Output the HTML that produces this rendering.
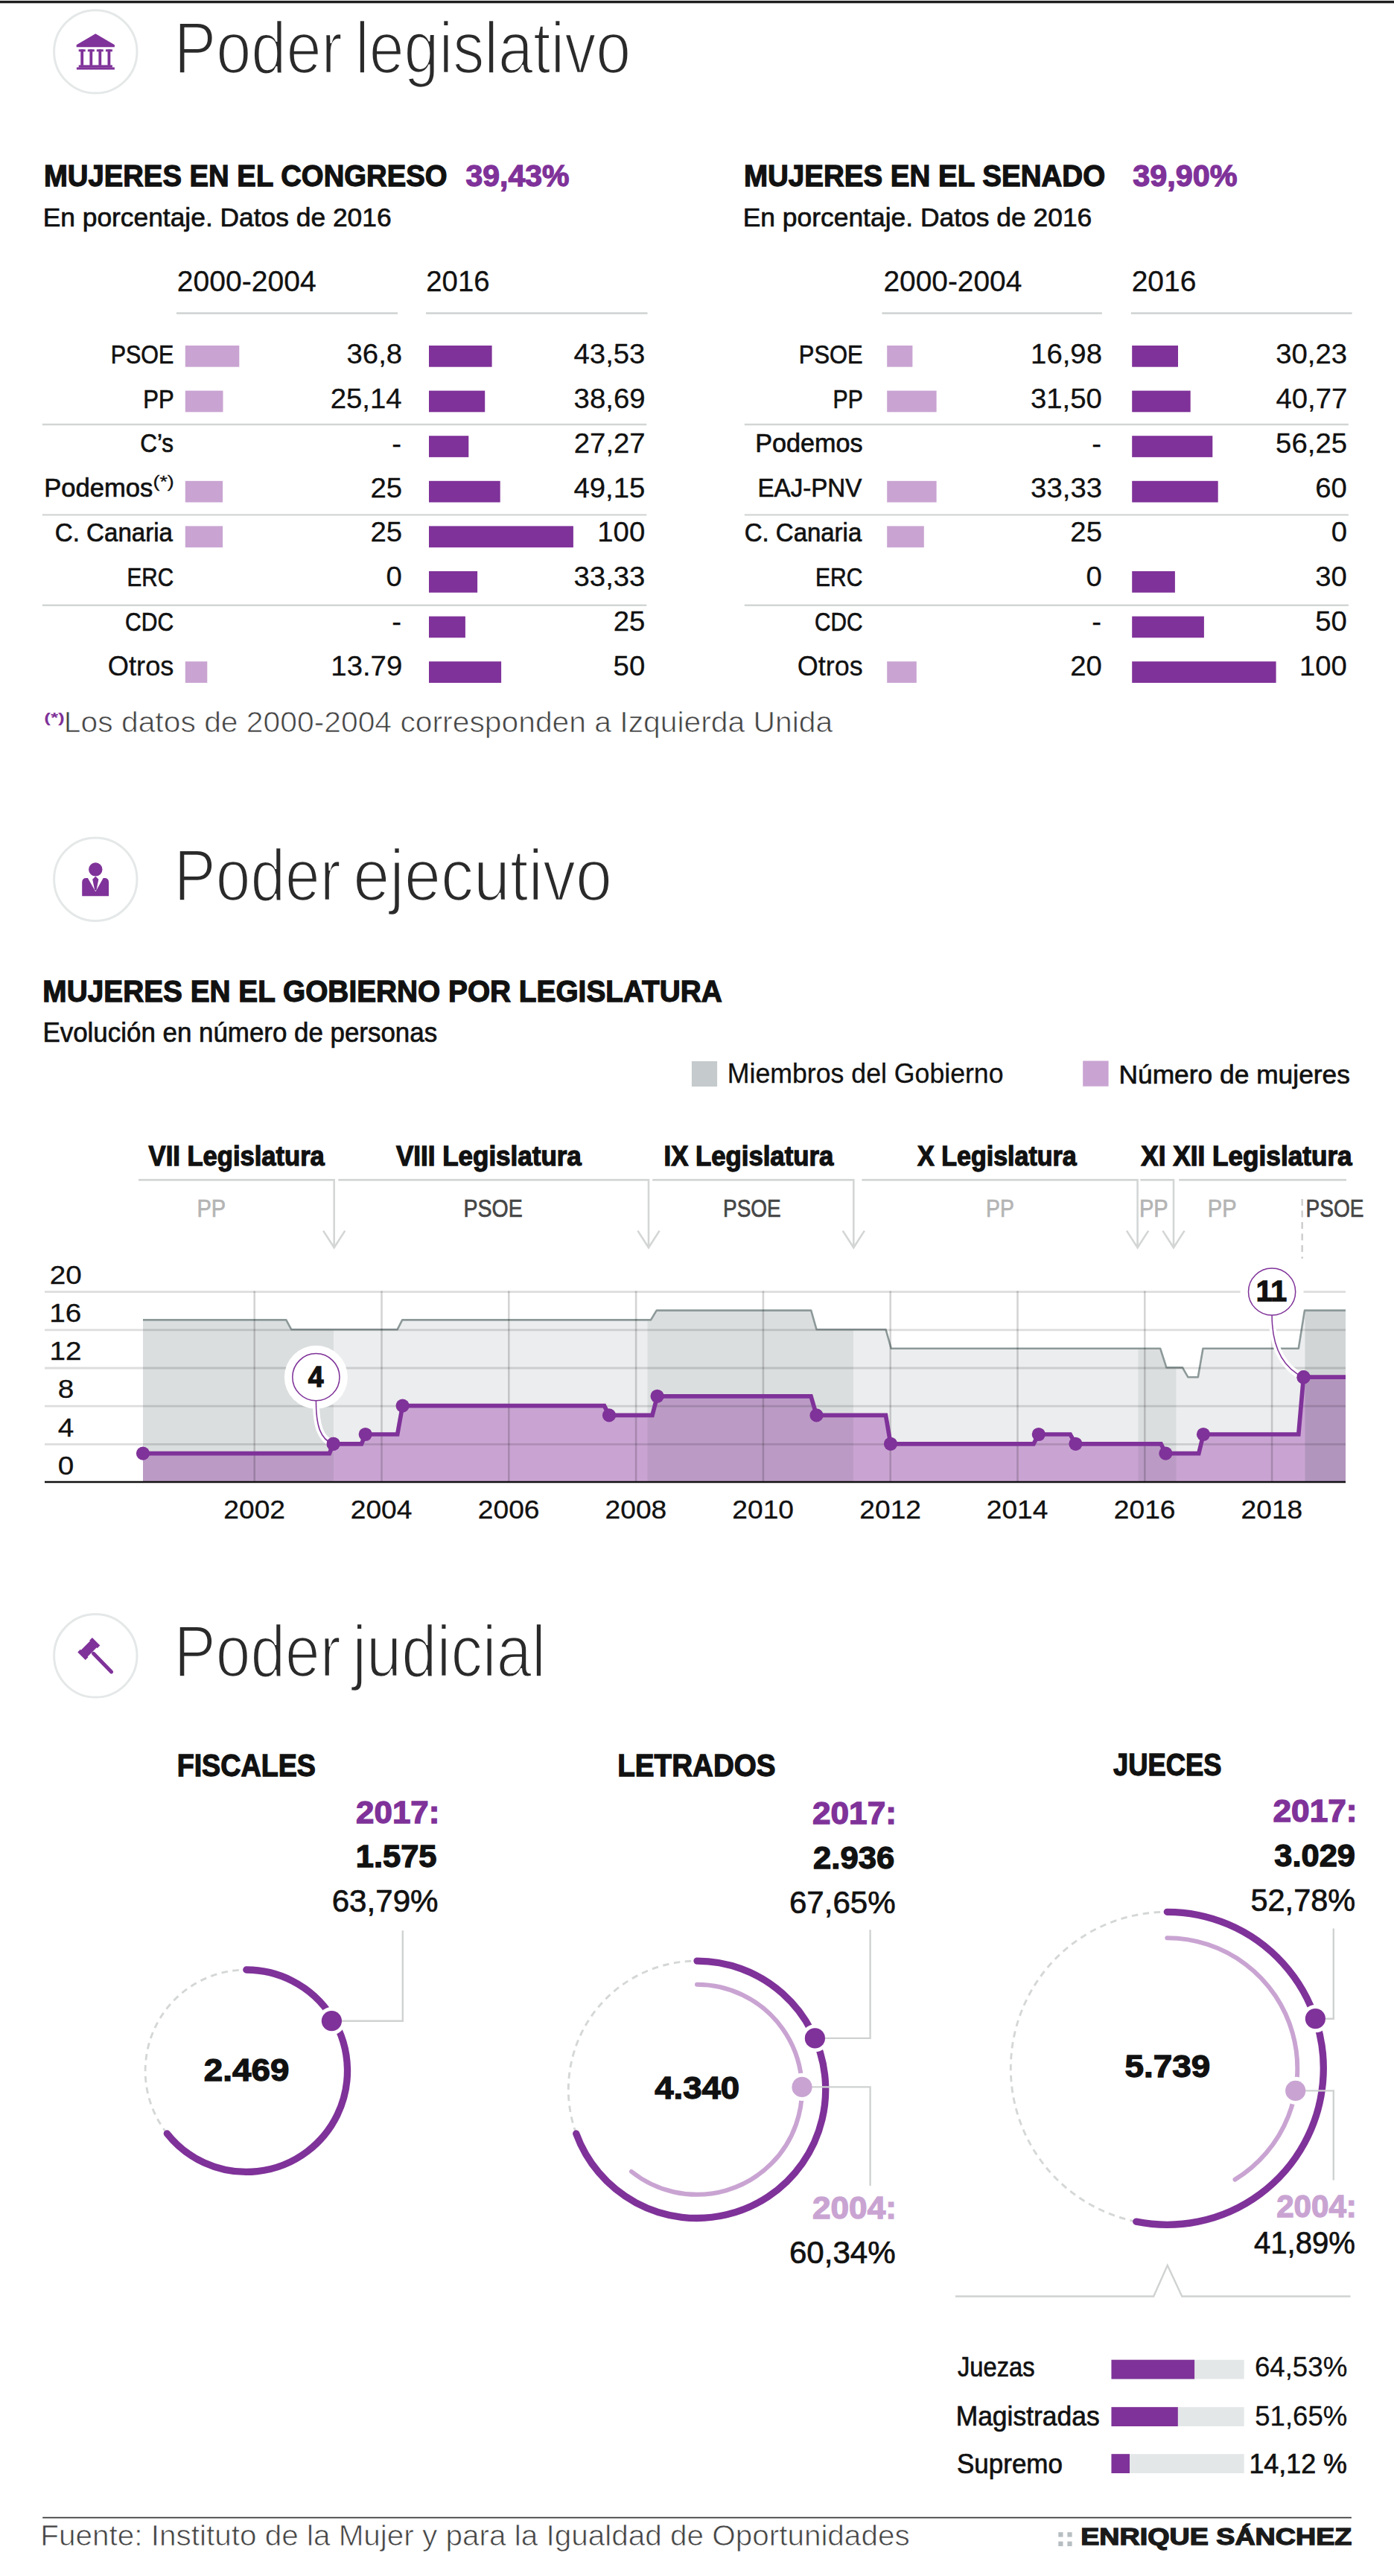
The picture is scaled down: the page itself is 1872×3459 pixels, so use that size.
<!DOCTYPE html>
<html lang="es"><head><meta charset="utf-8"><title>Poder legislativo, ejecutivo y judicial</title>
<style>
html,body{margin:0;padding:0;background:#fff}
svg{display:block}
text{font-family:'Liberation Sans',sans-serif;white-space:pre}
</style></head><body>
<svg width="1872" height="3459" viewBox="0 0 1872 3459">
<rect x="0.00" y="0.90" width="1872.00" height="3.40" fill="#1e1e1e"/>
<circle cx="128.3" cy="69.4" r="55.7" fill="#fff" stroke="#e5e8e8" stroke-width="3"/>
<g fill="#7f3299"><polygon points="102.7,63.3 102.7,60.3 128.3,45.2 153.9,60.3 153.9,63.3"/><rect x="105.7" y="66.3" width="9" height="3"/><rect x="108.3" y="66.3" width="3.8" height="21.5"/><rect x="117.8" y="66.3" width="9" height="3"/><rect x="120.4" y="66.3" width="3.8" height="21.5"/><rect x="129.8" y="66.3" width="9" height="3"/><rect x="132.4" y="66.3" width="3.8" height="21.5"/><rect x="141.9" y="66.3" width="9" height="3"/><rect x="144.5" y="66.3" width="3.8" height="21.5"/><rect x="105.7" y="87.4" width="45.2" height="3.2"/><rect x="102.9" y="90.4" width="51" height="3.1"/></g>
<text x="233.75" y="97.90" font-size="98.78" font-weight="normal" fill="#2a2a2a" textLength="225.95" lengthAdjust="spacingAndGlyphs" stroke="#fff" stroke-width="2.6">Poder</text>
<text x="476.92" y="97.90" font-size="98.78" font-weight="normal" fill="#2a2a2a" textLength="370.32" lengthAdjust="spacingAndGlyphs" stroke="#fff" stroke-width="2.6">legislativo</text>
<text x="58.89" y="249.75" font-size="41.11" font-weight="bold" fill="#111" textLength="541.66" lengthAdjust="spacingAndGlyphs" stroke="#111" stroke-width="1.3">MUJERES EN EL CONGRESO</text>
<text x="625.51" y="249.75" font-size="41.11" font-weight="bold" fill="#7f3299" textLength="139.02" lengthAdjust="spacingAndGlyphs" stroke="#7f3299" stroke-width="1.3">39,43%</text>
<text x="57.65" y="304.05" font-size="35.98" font-weight="normal" fill="#111" textLength="467.96" lengthAdjust="spacingAndGlyphs" stroke="#111" stroke-width="0.7">En porcentaje. Datos de 2016</text>
<text x="237.89" y="390.85" font-size="38.06" font-weight="normal" fill="#111" textLength="186.81" lengthAdjust="spacingAndGlyphs" stroke="#111" stroke-width="0.3">2000-2004</text>
<text x="572.32" y="390.85" font-size="38.06" font-weight="normal" fill="#111" textLength="85.21" lengthAdjust="spacingAndGlyphs" stroke="#111" stroke-width="0.3">2016</text>
<line x1="237.00" y1="420.70" x2="534.00" y2="420.70" stroke="#d3d5d5" stroke-width="2.7"/>
<line x1="572.00" y1="420.70" x2="869.50" y2="420.70" stroke="#d3d5d5" stroke-width="2.7"/>
<text x="148.65" y="487.65" font-size="35.58" font-weight="normal" fill="#111" textLength="84.61" lengthAdjust="spacingAndGlyphs" stroke="#111" stroke-width="0.7">PSOE</text>
<rect x="248.80" y="464.00" width="72.50" height="28.70" fill="#c9a4d2"/>
<text x="465.51" y="487.85" font-size="37.56" font-weight="normal" fill="#111" textLength="74.60" lengthAdjust="spacingAndGlyphs" stroke="#111" stroke-width="0.3">36,8</text>
<rect x="576.00" y="464.00" width="84.60" height="28.70" fill="#7f3299"/>
<text x="770.51" y="487.85" font-size="37.56" font-weight="normal" fill="#111" textLength="95.92" lengthAdjust="spacingAndGlyphs" stroke="#111" stroke-width="0.3">43,53</text>
<text x="192.21" y="547.55" font-size="35.58" font-weight="normal" fill="#111" textLength="41.38" lengthAdjust="spacingAndGlyphs" stroke="#111" stroke-width="0.7">PP</text>
<rect x="248.80" y="524.60" width="50.70" height="28.70" fill="#c9a4d2"/>
<text x="443.65" y="547.75" font-size="37.56" font-weight="normal" fill="#111" textLength="95.92" lengthAdjust="spacingAndGlyphs" stroke="#111" stroke-width="0.3">25,14</text>
<rect x="576.00" y="524.60" width="75.20" height="28.70" fill="#7f3299"/>
<text x="770.64" y="547.75" font-size="37.56" font-weight="normal" fill="#111" textLength="95.92" lengthAdjust="spacingAndGlyphs" stroke="#111" stroke-width="0.3">38,69</text>
<text x="188.17" y="607.45" font-size="35.58" font-weight="normal" fill="#111" textLength="44.90" lengthAdjust="spacingAndGlyphs" stroke="#111" stroke-width="0.7">C’s</text>
<text x="526.39" y="607.65" font-size="37.56" font-weight="normal" fill="#111" textLength="12.76" lengthAdjust="spacingAndGlyphs" stroke="#111" stroke-width="0.3">-</text>
<rect x="576.00" y="585.20" width="53.30" height="28.70" fill="#7f3299"/>
<text x="770.75" y="607.65" font-size="37.56" font-weight="normal" fill="#111" textLength="95.92" lengthAdjust="spacingAndGlyphs" stroke="#111" stroke-width="0.3">27,27</text>
<text x="59.31" y="667.35" font-size="35.58" font-weight="normal" fill="#111" textLength="146.09" lengthAdjust="spacingAndGlyphs" stroke="#111" stroke-width="0.7">Podemos</text>
<text x="205.49" y="653.75" font-size="21.56" font-weight="normal" fill="#111" textLength="28.33" lengthAdjust="spacingAndGlyphs" stroke="#111" stroke-width="0.3">(*)</text>
<rect x="248.80" y="645.80" width="50.30" height="28.70" fill="#c9a4d2"/>
<text x="497.42" y="667.55" font-size="37.56" font-weight="normal" fill="#111" textLength="42.64" lengthAdjust="spacingAndGlyphs" stroke="#111" stroke-width="0.3">25</text>
<rect x="576.00" y="645.80" width="95.70" height="28.70" fill="#7f3299"/>
<text x="770.44" y="667.55" font-size="37.56" font-weight="normal" fill="#111" textLength="95.92" lengthAdjust="spacingAndGlyphs" stroke="#111" stroke-width="0.3">49,15</text>
<text x="73.87" y="727.25" font-size="35.58" font-weight="normal" fill="#111" textLength="158.08" lengthAdjust="spacingAndGlyphs" stroke="#111" stroke-width="0.7">C. Canaria</text>
<rect x="248.80" y="706.40" width="50.30" height="28.70" fill="#c9a4d2"/>
<text x="497.42" y="727.45" font-size="37.56" font-weight="normal" fill="#111" textLength="42.64" lengthAdjust="spacingAndGlyphs" stroke="#111" stroke-width="0.3">25</text>
<rect x="576.00" y="706.40" width="193.90" height="28.70" fill="#7f3299"/>
<text x="802.29" y="727.45" font-size="37.56" font-weight="normal" fill="#111" textLength="63.95" lengthAdjust="spacingAndGlyphs" stroke="#111" stroke-width="0.3">100</text>
<text x="170.52" y="787.15" font-size="35.58" font-weight="normal" fill="#111" textLength="62.56" lengthAdjust="spacingAndGlyphs" stroke="#111" stroke-width="0.7">ERC</text>
<text x="518.63" y="787.35" font-size="37.56" font-weight="normal" fill="#111" textLength="21.32" lengthAdjust="spacingAndGlyphs" stroke="#111" stroke-width="0.3">0</text>
<rect x="576.00" y="767.00" width="65.10" height="28.70" fill="#7f3299"/>
<text x="770.51" y="787.35" font-size="37.56" font-weight="normal" fill="#111" textLength="95.92" lengthAdjust="spacingAndGlyphs" stroke="#111" stroke-width="0.3">33,33</text>
<text x="168.02" y="847.05" font-size="35.58" font-weight="normal" fill="#111" textLength="65.07" lengthAdjust="spacingAndGlyphs" stroke="#111" stroke-width="0.7">CDC</text>
<text x="526.39" y="847.25" font-size="37.56" font-weight="normal" fill="#111" textLength="12.76" lengthAdjust="spacingAndGlyphs" stroke="#111" stroke-width="0.3">-</text>
<rect x="576.00" y="827.60" width="48.90" height="28.70" fill="#7f3299"/>
<text x="823.72" y="847.25" font-size="37.56" font-weight="normal" fill="#111" textLength="42.64" lengthAdjust="spacingAndGlyphs" stroke="#111" stroke-width="0.3">25</text>
<text x="144.83" y="907.15" font-size="36.16" font-weight="normal" fill="#111" textLength="88.63" lengthAdjust="spacingAndGlyphs" stroke="#111" stroke-width="0.3">Otros</text>
<rect x="248.80" y="888.20" width="29.50" height="28.70" fill="#c9a4d2"/>
<text x="444.34" y="907.15" font-size="37.56" font-weight="normal" fill="#111" textLength="95.92" lengthAdjust="spacingAndGlyphs" stroke="#111" stroke-width="0.3">13.79</text>
<rect x="576.00" y="888.20" width="97.10" height="28.70" fill="#7f3299"/>
<text x="823.61" y="907.15" font-size="37.56" font-weight="normal" fill="#111" textLength="42.64" lengthAdjust="spacingAndGlyphs" stroke="#111" stroke-width="0.3">50</text>
<line x1="56.80" y1="570.00" x2="868.30" y2="570.00" stroke="#d3d5d5" stroke-width="2.4"/>
<line x1="56.80" y1="691.40" x2="868.30" y2="691.40" stroke="#d3d5d5" stroke-width="2.4"/>
<line x1="56.80" y1="812.80" x2="868.30" y2="812.80" stroke="#d3d5d5" stroke-width="2.4"/>
<text x="998.88" y="249.75" font-size="41.11" font-weight="bold" fill="#111" textLength="485.29" lengthAdjust="spacingAndGlyphs" stroke="#111" stroke-width="1.3">MUJERES EN EL SENADO</text>
<text x="1521.20" y="249.75" font-size="41.11" font-weight="bold" fill="#7f3299" textLength="140.44" lengthAdjust="spacingAndGlyphs" stroke="#7f3299" stroke-width="1.3">39,90%</text>
<text x="997.64" y="304.05" font-size="35.98" font-weight="normal" fill="#111" textLength="468.66" lengthAdjust="spacingAndGlyphs" stroke="#111" stroke-width="0.7">En porcentaje. Datos de 2016</text>
<text x="1186.50" y="390.85" font-size="38.06" font-weight="normal" fill="#111" textLength="185.79" lengthAdjust="spacingAndGlyphs" stroke="#111" stroke-width="0.3">2000-2004</text>
<text x="1519.69" y="390.85" font-size="38.06" font-weight="normal" fill="#111" textLength="86.67" lengthAdjust="spacingAndGlyphs" stroke="#111" stroke-width="0.3">2016</text>
<line x1="1184.40" y1="420.70" x2="1479.90" y2="420.70" stroke="#d3d5d5" stroke-width="2.7"/>
<line x1="1518.80" y1="420.70" x2="1815.60" y2="420.70" stroke="#d3d5d5" stroke-width="2.7"/>
<text x="1072.82" y="487.65" font-size="35.58" font-weight="normal" fill="#111" textLength="85.76" lengthAdjust="spacingAndGlyphs" stroke="#111" stroke-width="0.7">PSOE</text>
<rect x="1191.20" y="464.00" width="34.20" height="28.70" fill="#c9a4d2"/>
<text x="1384.09" y="487.85" font-size="37.56" font-weight="normal" fill="#111" textLength="95.92" lengthAdjust="spacingAndGlyphs" stroke="#111" stroke-width="0.3">16,98</text>
<rect x="1520.20" y="464.00" width="61.80" height="28.70" fill="#7f3299"/>
<text x="1713.21" y="487.85" font-size="37.56" font-weight="normal" fill="#111" textLength="95.92" lengthAdjust="spacingAndGlyphs" stroke="#111" stroke-width="0.3">30,23</text>
<text x="1118.57" y="547.55" font-size="35.58" font-weight="normal" fill="#111" textLength="40.27" lengthAdjust="spacingAndGlyphs" stroke="#111" stroke-width="0.7">PP</text>
<rect x="1191.20" y="524.60" width="66.40" height="28.70" fill="#c9a4d2"/>
<text x="1383.92" y="547.75" font-size="37.56" font-weight="normal" fill="#111" textLength="95.92" lengthAdjust="spacingAndGlyphs" stroke="#111" stroke-width="0.3">31,50</text>
<rect x="1520.20" y="524.60" width="78.50" height="28.70" fill="#7f3299"/>
<text x="1713.45" y="547.75" font-size="37.56" font-weight="normal" fill="#111" textLength="95.92" lengthAdjust="spacingAndGlyphs" stroke="#111" stroke-width="0.3">40,77</text>
<text x="1014.15" y="607.45" font-size="35.58" font-weight="normal" fill="#111" textLength="144.34" lengthAdjust="spacingAndGlyphs" stroke="#111" stroke-width="0.7">Podemos</text>
<text x="1466.29" y="607.65" font-size="37.56" font-weight="normal" fill="#111" textLength="12.76" lengthAdjust="spacingAndGlyphs" stroke="#111" stroke-width="0.3">-</text>
<rect x="1520.20" y="585.20" width="108.10" height="28.70" fill="#7f3299"/>
<text x="1713.14" y="607.65" font-size="37.56" font-weight="normal" fill="#111" textLength="95.92" lengthAdjust="spacingAndGlyphs" stroke="#111" stroke-width="0.3">56,25</text>
<text x="1017.53" y="667.35" font-size="35.58" font-weight="normal" fill="#111" textLength="139.86" lengthAdjust="spacingAndGlyphs" stroke="#111" stroke-width="0.7">EAJ-PNV</text>
<rect x="1191.20" y="645.80" width="66.40" height="28.70" fill="#c9a4d2"/>
<text x="1384.11" y="667.55" font-size="37.56" font-weight="normal" fill="#111" textLength="95.92" lengthAdjust="spacingAndGlyphs" stroke="#111" stroke-width="0.3">33,33</text>
<rect x="1520.20" y="645.80" width="115.50" height="28.70" fill="#7f3299"/>
<text x="1766.31" y="667.55" font-size="37.56" font-weight="normal" fill="#111" textLength="42.64" lengthAdjust="spacingAndGlyphs" stroke="#111" stroke-width="0.3">60</text>
<text x="999.78" y="727.25" font-size="35.58" font-weight="normal" fill="#111" textLength="157.47" lengthAdjust="spacingAndGlyphs" stroke="#111" stroke-width="0.7">C. Canaria</text>
<rect x="1191.20" y="706.40" width="49.60" height="28.70" fill="#c9a4d2"/>
<text x="1437.32" y="727.45" font-size="37.56" font-weight="normal" fill="#111" textLength="42.64" lengthAdjust="spacingAndGlyphs" stroke="#111" stroke-width="0.3">25</text>
<text x="1787.63" y="727.45" font-size="37.56" font-weight="normal" fill="#111" textLength="21.32" lengthAdjust="spacingAndGlyphs" stroke="#111" stroke-width="0.3">0</text>
<text x="1094.99" y="787.15" font-size="35.58" font-weight="normal" fill="#111" textLength="63.41" lengthAdjust="spacingAndGlyphs" stroke="#111" stroke-width="0.7">ERC</text>
<text x="1458.53" y="787.35" font-size="37.56" font-weight="normal" fill="#111" textLength="21.32" lengthAdjust="spacingAndGlyphs" stroke="#111" stroke-width="0.3">0</text>
<rect x="1520.20" y="767.00" width="57.70" height="28.70" fill="#7f3299"/>
<text x="1766.31" y="787.35" font-size="37.56" font-weight="normal" fill="#111" textLength="42.64" lengthAdjust="spacingAndGlyphs" stroke="#111" stroke-width="0.3">30</text>
<text x="1093.94" y="847.05" font-size="35.58" font-weight="normal" fill="#111" textLength="64.44" lengthAdjust="spacingAndGlyphs" stroke="#111" stroke-width="0.7">CDC</text>
<text x="1466.29" y="847.25" font-size="37.56" font-weight="normal" fill="#111" textLength="12.76" lengthAdjust="spacingAndGlyphs" stroke="#111" stroke-width="0.3">-</text>
<rect x="1520.20" y="827.60" width="96.70" height="28.70" fill="#7f3299"/>
<text x="1766.31" y="847.25" font-size="37.56" font-weight="normal" fill="#111" textLength="42.64" lengthAdjust="spacingAndGlyphs" stroke="#111" stroke-width="0.3">50</text>
<text x="1070.75" y="907.15" font-size="36.16" font-weight="normal" fill="#111" textLength="88.01" lengthAdjust="spacingAndGlyphs" stroke="#111" stroke-width="0.3">Otros</text>
<rect x="1191.20" y="888.20" width="39.60" height="28.70" fill="#c9a4d2"/>
<text x="1437.21" y="907.15" font-size="37.56" font-weight="normal" fill="#111" textLength="42.64" lengthAdjust="spacingAndGlyphs" stroke="#111" stroke-width="0.3">20</text>
<rect x="1520.20" y="888.20" width="193.40" height="28.70" fill="#7f3299"/>
<text x="1744.99" y="907.15" font-size="37.56" font-weight="normal" fill="#111" textLength="63.95" lengthAdjust="spacingAndGlyphs" stroke="#111" stroke-width="0.3">100</text>
<line x1="999.80" y1="570.00" x2="1810.90" y2="570.00" stroke="#d3d5d5" stroke-width="2.4"/>
<line x1="999.80" y1="691.40" x2="1810.90" y2="691.40" stroke="#d3d5d5" stroke-width="2.4"/>
<line x1="999.80" y1="812.80" x2="1810.90" y2="812.80" stroke="#d3d5d5" stroke-width="2.4"/>
<text x="59.20" y="969.70" font-size="18.50" font-weight="bold" fill="#7f3299" textLength="27.61" lengthAdjust="spacingAndGlyphs" stroke="none">(*)</text>
<text x="85.80" y="983.15" font-size="38.02" font-weight="normal" fill="#444" textLength="1032.45" lengthAdjust="spacingAndGlyphs" stroke="#fff" stroke-width="0.7">Los datos de 2000-2004 corresponden a Izquierda Unida</text>
<circle cx="128.3" cy="1180.7" r="55.7" fill="#fff" stroke="#e5e8e8" stroke-width="3"/>
<g fill="#7f3299"><circle cx="128.3" cy="1167.4" r="9.2"/><path d="M110.2,1203.2 V1185 Q110.2,1179.1 116,1179.1 H117.9 L128.3,1197.2 L138.7,1179.1 H140.3 Q146.1,1179.1 146.1,1185 V1203.2 Z"/><polygon points="128.3,1176.8 132.4,1180.8 129.6,1194.5 128.3,1196 127,1194.5 124.2,1180.8"/></g>
<text x="233.82" y="1209.30" font-size="98.78" font-weight="normal" fill="#2a2a2a" textLength="223.77" lengthAdjust="spacingAndGlyphs" stroke="#fff" stroke-width="2.6">Poder</text>
<text x="474.36" y="1209.30" font-size="98.78" font-weight="normal" fill="#2a2a2a" textLength="347.64" lengthAdjust="spacingAndGlyphs" stroke="#fff" stroke-width="2.6">ejecutivo</text>
<text x="57.36" y="1344.55" font-size="41.11" font-weight="bold" fill="#111" textLength="912.50" lengthAdjust="spacingAndGlyphs" stroke="#111" stroke-width="1.3">MUJERES EN EL GOBIERNO POR LEGISLATURA</text>
<text x="57.49" y="1398.95" font-size="36.98" font-weight="normal" fill="#111" textLength="529.62" lengthAdjust="spacingAndGlyphs" stroke="#111" stroke-width="0.7">Evolución en número de personas</text>
<rect x="928.90" y="1425.00" width="34.20" height="34.00" fill="#c5cbcd"/>
<text x="976.82" y="1454.45" font-size="36.06" font-weight="normal" fill="#111" textLength="370.72" lengthAdjust="spacingAndGlyphs" stroke="#111" stroke-width="0.3">Miembros del Gobierno</text>
<rect x="1454.20" y="1424.50" width="34.40" height="34.20" fill="#c9a4d2"/>
<text x="1502.45" y="1454.65" font-size="35.48" font-weight="normal" fill="#111" textLength="310.48" lengthAdjust="spacingAndGlyphs" stroke="#111" stroke-width="0.7">Número de mujeres</text>
<text x="199.61" y="1565.35" font-size="36.91" font-weight="bold" fill="#111" textLength="236.22" lengthAdjust="spacingAndGlyphs" stroke="#111" stroke-width="1.3">VII Legislatura</text>
<text x="532.01" y="1565.35" font-size="36.91" font-weight="bold" fill="#111" textLength="248.82" lengthAdjust="spacingAndGlyphs" stroke="#111" stroke-width="1.3">VIII Legislatura</text>
<text x="891.53" y="1565.35" font-size="36.91" font-weight="bold" fill="#111" textLength="227.80" lengthAdjust="spacingAndGlyphs" stroke="#111" stroke-width="1.3">IX Legislatura</text>
<text x="1232.05" y="1565.35" font-size="36.91" font-weight="bold" fill="#111" textLength="213.68" lengthAdjust="spacingAndGlyphs" stroke="#111" stroke-width="1.3">X Legislatura</text>
<text x="1532.34" y="1565.35" font-size="36.91" font-weight="bold" fill="#111" textLength="283.29" lengthAdjust="spacingAndGlyphs" stroke="#111" stroke-width="1.3">XI XII Legislatura</text>
<line x1="186.00" y1="1584.40" x2="448.70" y2="1584.40" stroke="#d4d6d6" stroke-width="2.6"/>
<line x1="454.30" y1="1584.40" x2="871.00" y2="1584.40" stroke="#d4d6d6" stroke-width="2.6"/>
<line x1="876.20" y1="1584.40" x2="1146.30" y2="1584.40" stroke="#d4d6d6" stroke-width="2.6"/>
<line x1="1157.40" y1="1584.40" x2="1527.60" y2="1584.40" stroke="#d4d6d6" stroke-width="2.6"/>
<line x1="1531.40" y1="1584.40" x2="1576.00" y2="1584.40" stroke="#d4d6d6" stroke-width="2.6"/>
<line x1="1583.20" y1="1584.40" x2="1808.00" y2="1584.40" stroke="#d4d6d6" stroke-width="2.6"/>
<path d="M448.7,1583.1 V1675 M434.09999999999997,1652.6 L448.7,1675.3 L463.3,1652.6" fill="none" stroke="#d4d6d6" stroke-width="2.6" stroke-linejoin="miter"/>
<path d="M871,1583.1 V1675 M856.4,1652.6 L871,1675.3 L885.6,1652.6" fill="none" stroke="#d4d6d6" stroke-width="2.6" stroke-linejoin="miter"/>
<path d="M1146.3,1583.1 V1675 M1131.7,1652.6 L1146.3,1675.3 L1160.8999999999999,1652.6" fill="none" stroke="#d4d6d6" stroke-width="2.6" stroke-linejoin="miter"/>
<path d="M1527.6,1583.1 V1675 M1513.0,1652.6 L1527.6,1675.3 L1542.1999999999998,1652.6" fill="none" stroke="#d4d6d6" stroke-width="2.6" stroke-linejoin="miter"/>
<path d="M1576,1583.1 V1675 M1561.4,1652.6 L1576,1675.3 L1590.6,1652.6" fill="none" stroke="#d4d6d6" stroke-width="2.6" stroke-linejoin="miter"/>
<text x="264.47" y="1633.65" font-size="33.28" font-weight="normal" fill="#b4b4b4" textLength="38.71" lengthAdjust="spacingAndGlyphs" stroke="#b4b4b4" stroke-width="0.7">PP</text>
<text x="622.51" y="1633.65" font-size="33.28" font-weight="normal" fill="#454545" textLength="79.16" lengthAdjust="spacingAndGlyphs" stroke="#454545" stroke-width="0.7">PSOE</text>
<text x="971.06" y="1633.65" font-size="33.28" font-weight="normal" fill="#454545" textLength="77.69" lengthAdjust="spacingAndGlyphs" stroke="#454545" stroke-width="0.7">PSOE</text>
<text x="1324.02" y="1633.65" font-size="33.28" font-weight="normal" fill="#b4b4b4" textLength="37.82" lengthAdjust="spacingAndGlyphs" stroke="#b4b4b4" stroke-width="0.7">PP</text>
<text x="1529.96" y="1633.65" font-size="33.28" font-weight="normal" fill="#b4b4b4" textLength="38.82" lengthAdjust="spacingAndGlyphs" stroke="#b4b4b4" stroke-width="0.7">PP</text>
<text x="1621.76" y="1633.65" font-size="33.28" font-weight="normal" fill="#b4b4b4" textLength="38.82" lengthAdjust="spacingAndGlyphs" stroke="#b4b4b4" stroke-width="0.7">PP</text>
<text x="1753.55" y="1633.65" font-size="33.28" font-weight="normal" fill="#454545" textLength="78.01" lengthAdjust="spacingAndGlyphs" stroke="#454545" stroke-width="0.7">PSOE</text>
<line x1="1748.70" y1="1610.00" x2="1748.70" y2="1690.00" stroke="#cfcfcf" stroke-width="2.6" stroke-dasharray="9 6.5"/>
<defs><clipPath id="cg"><polygon points="192,1990 192.0,1772.4 384.3,1772.4 391.2,1785.2 533.7,1785.2 540.2,1772.4 874.0,1772.4 881.7,1759.6 1089.2,1759.6 1096.5,1785.2 1189.5,1785.2 1196.8,1810.8 1558.2,1810.8 1566.4,1836.4 1588.0,1836.4 1595.3,1849.2 1608.8,1849.2 1615.5,1810.8 1743.8,1810.8 1752.0,1759.6 1807.0,1759.6 1807,1990"/></clipPath></defs>
<polygon points="192,1990 192.0,1772.4 384.3,1772.4 391.2,1785.2 533.7,1785.2 540.2,1772.4 874.0,1772.4 881.7,1759.6 1089.2,1759.6 1096.5,1785.2 1189.5,1785.2 1196.8,1810.8 1558.2,1810.8 1566.4,1836.4 1588.0,1836.4 1595.3,1849.2 1608.8,1849.2 1615.5,1810.8 1743.8,1810.8 1752.0,1759.6 1807.0,1759.6 1807,1990" fill="#ecedee"/>
<polygon points="192,1990 192.0,1951.6 442.4,1951.6 447.6,1938.8 485.5,1938.8 490.7,1926.0 533.7,1926.0 540.6,1887.6 811.5,1887.6 818.0,1900.4 876.0,1900.4 882.6,1874.8 1089.0,1874.8 1096.5,1900.4 1189.5,1900.4 1196.0,1938.8 1388.0,1938.8 1394.8,1926.0 1437.2,1926.0 1444.4,1938.8 1559.1,1938.8 1565.4,1951.6 1609.8,1951.6 1616.0,1926.0 1743.8,1926.0 1750.5,1849.2 1807.0,1849.2 1807,1990" fill="#c9a4d2"/>
<g clip-path="url(#cg)" fill="#14322d"><rect x="192" y="1730" width="256" height="260" fill-opacity="0.08"/><rect x="869.5" y="1730" width="276.5" height="260" fill-opacity="0.08"/><rect x="1528.5" y="1730" width="51.0" height="260" fill-opacity="0.08"/><rect x="1752.5" y="1730" width="54.5" height="260" fill-opacity="0.125"/></g>
<polyline points="192.0,1772.4 384.3,1772.4 391.2,1785.2 533.7,1785.2 540.2,1772.4 874.0,1772.4 881.7,1759.6 1089.2,1759.6 1096.5,1785.2 1189.5,1785.2 1196.8,1810.8 1558.2,1810.8 1566.4,1836.4 1588.0,1836.4 1595.3,1849.2 1608.8,1849.2 1615.5,1810.8 1743.8,1810.8 1752.0,1759.6 1807.0,1759.6" fill="none" stroke="#8d9999" stroke-width="2.6" stroke-linejoin="round"/>
<line x1="60.00" y1="1939.40" x2="1807.00" y2="1939.40" stroke="#000" stroke-width="2.8" stroke-opacity="0.135"/>
<line x1="60.00" y1="1888.20" x2="1807.00" y2="1888.20" stroke="#000" stroke-width="2.8" stroke-opacity="0.135"/>
<line x1="60.00" y1="1837.00" x2="1807.00" y2="1837.00" stroke="#000" stroke-width="2.8" stroke-opacity="0.135"/>
<line x1="60.00" y1="1785.80" x2="1807.00" y2="1785.80" stroke="#000" stroke-width="2.8" stroke-opacity="0.135"/>
<line x1="60.00" y1="1734.60" x2="1807.00" y2="1734.60" stroke="#000" stroke-width="2.8" stroke-opacity="0.135"/>
<line x1="341.70" y1="1733.50" x2="341.70" y2="1990.00" stroke="#000" stroke-width="2.6" stroke-opacity="0.17"/>
<line x1="512.50" y1="1733.50" x2="512.50" y2="1990.00" stroke="#000" stroke-width="2.6" stroke-opacity="0.17"/>
<line x1="683.30" y1="1733.50" x2="683.30" y2="1990.00" stroke="#000" stroke-width="2.6" stroke-opacity="0.17"/>
<line x1="854.10" y1="1733.50" x2="854.10" y2="1990.00" stroke="#000" stroke-width="2.6" stroke-opacity="0.17"/>
<line x1="1024.90" y1="1733.50" x2="1024.90" y2="1990.00" stroke="#000" stroke-width="2.6" stroke-opacity="0.17"/>
<line x1="1195.70" y1="1733.50" x2="1195.70" y2="1990.00" stroke="#000" stroke-width="2.6" stroke-opacity="0.17"/>
<line x1="1366.50" y1="1733.50" x2="1366.50" y2="1990.00" stroke="#000" stroke-width="2.6" stroke-opacity="0.17"/>
<line x1="1537.30" y1="1733.50" x2="1537.30" y2="1990.00" stroke="#000" stroke-width="2.6" stroke-opacity="0.17"/>
<line x1="1708.10" y1="1733.50" x2="1708.10" y2="1990.00" stroke="#000" stroke-width="2.6" stroke-opacity="0.17"/>
<line x1="60.00" y1="1990.00" x2="1807.00" y2="1990.00" stroke="#111" stroke-width="2.6"/>
<polyline points="192.0,1951.6 442.4,1951.6 447.6,1938.8 485.5,1938.8 490.7,1926.0 533.7,1926.0 540.6,1887.6 811.5,1887.6 818.0,1900.4 876.0,1900.4 882.6,1874.8 1089.0,1874.8 1096.5,1900.4 1189.5,1900.4 1196.0,1938.8 1388.0,1938.8 1394.8,1926.0 1437.2,1926.0 1444.4,1938.8 1559.1,1938.8 1565.4,1951.6 1609.8,1951.6 1616.0,1926.0 1743.8,1926.0 1750.5,1849.2 1807.0,1849.2" fill="none" stroke="#7f3299" stroke-width="5.7" stroke-linejoin="miter"/>
<circle cx="192.0" cy="1951.6" r="9.1" fill="#7f3299"/>
<circle cx="447.6" cy="1938.8" r="9.1" fill="#7f3299"/>
<circle cx="490.7" cy="1926.0" r="9.1" fill="#7f3299"/>
<circle cx="540.6" cy="1887.6" r="9.1" fill="#7f3299"/>
<circle cx="818.0" cy="1900.4" r="9.1" fill="#7f3299"/>
<circle cx="882.6" cy="1874.8" r="9.1" fill="#7f3299"/>
<circle cx="1096.5" cy="1900.4" r="9.1" fill="#7f3299"/>
<circle cx="1196.0" cy="1938.8" r="9.1" fill="#7f3299"/>
<circle cx="1394.8" cy="1926.0" r="9.1" fill="#7f3299"/>
<circle cx="1444.4" cy="1938.8" r="9.1" fill="#7f3299"/>
<circle cx="1565.4" cy="1951.6" r="9.1" fill="#7f3299"/>
<circle cx="1616.0" cy="1926.0" r="9.1" fill="#7f3299"/>
<circle cx="1750.5" cy="1849.2" r="9.1" fill="#7f3299"/>
<text x="66.75" y="1723.85" font-size="34.56" font-weight="normal" fill="#111" textLength="43.06" lengthAdjust="spacingAndGlyphs" stroke="#111" stroke-width="0.3">20</text>
<text x="66.35" y="1775.05" font-size="34.56" font-weight="normal" fill="#111" textLength="43.06" lengthAdjust="spacingAndGlyphs" stroke="#111" stroke-width="0.3">16</text>
<text x="66.47" y="1826.25" font-size="34.56" font-weight="normal" fill="#111" textLength="43.06" lengthAdjust="spacingAndGlyphs" stroke="#111" stroke-width="0.3">12</text>
<text x="77.74" y="1877.45" font-size="34.56" font-weight="normal" fill="#111" textLength="21.53" lengthAdjust="spacingAndGlyphs" stroke="#111" stroke-width="0.3">8</text>
<text x="77.86" y="1928.65" font-size="34.56" font-weight="normal" fill="#111" textLength="21.53" lengthAdjust="spacingAndGlyphs" stroke="#111" stroke-width="0.3">4</text>
<text x="77.74" y="1979.85" font-size="34.56" font-weight="normal" fill="#111" textLength="21.53" lengthAdjust="spacingAndGlyphs" stroke="#111" stroke-width="0.3">0</text>
<text x="300.37" y="2038.55" font-size="34.56" font-weight="normal" fill="#111" textLength="82.66" lengthAdjust="spacingAndGlyphs" stroke="#111" stroke-width="0.3">2002</text>
<text x="470.78" y="2038.55" font-size="34.56" font-weight="normal" fill="#111" textLength="82.66" lengthAdjust="spacingAndGlyphs" stroke="#111" stroke-width="0.3">2004</text>
<text x="641.85" y="2038.55" font-size="34.56" font-weight="normal" fill="#111" textLength="82.66" lengthAdjust="spacingAndGlyphs" stroke="#111" stroke-width="0.3">2006</text>
<text x="812.64" y="2038.55" font-size="34.56" font-weight="normal" fill="#111" textLength="82.66" lengthAdjust="spacingAndGlyphs" stroke="#111" stroke-width="0.3">2008</text>
<text x="983.36" y="2038.55" font-size="34.56" font-weight="normal" fill="#111" textLength="82.66" lengthAdjust="spacingAndGlyphs" stroke="#111" stroke-width="0.3">2010</text>
<text x="1154.37" y="2038.55" font-size="34.56" font-weight="normal" fill="#111" textLength="82.66" lengthAdjust="spacingAndGlyphs" stroke="#111" stroke-width="0.3">2012</text>
<text x="1324.78" y="2038.55" font-size="34.56" font-weight="normal" fill="#111" textLength="82.66" lengthAdjust="spacingAndGlyphs" stroke="#111" stroke-width="0.3">2014</text>
<text x="1495.85" y="2038.55" font-size="34.56" font-weight="normal" fill="#111" textLength="82.66" lengthAdjust="spacingAndGlyphs" stroke="#111" stroke-width="0.3">2016</text>
<text x="1666.64" y="2038.55" font-size="34.56" font-weight="normal" fill="#111" textLength="82.66" lengthAdjust="spacingAndGlyphs" stroke="#111" stroke-width="0.3">2018</text>
<path d="M424.4,1880.5 C424.4,1915 430,1932 447.6,1939.5" fill="none" stroke="#fff" stroke-width="9"/>
<circle cx="424.4" cy="1849.2" r="42.5" fill="#fff"/>
<path d="M424.4,1880.5 C424.4,1915 430,1932 447.6,1939.5" fill="none" stroke="#7f3299" stroke-width="1.5"/>
<circle cx="424.4" cy="1849.2" r="31.6" fill="#fff" stroke="#7f3299" stroke-width="1.5"/>
<text x="413.83" y="1862.15" font-size="38.11" font-weight="bold" fill="#111" textLength="20.77" lengthAdjust="spacingAndGlyphs" stroke="#111" stroke-width="1.3">4</text>
<path d="M1708.1,1766 C1708.1,1808 1722,1836 1750.5,1849.5" fill="none" stroke="#fff" stroke-width="9"/>
<circle cx="1708.1" cy="1734.5" r="42.5" fill="#fff"/>
<path d="M1708.1,1766 C1708.1,1808 1722,1836 1750.5,1849.5" fill="none" stroke="#7f3299" stroke-width="1.5"/>
<circle cx="1708.1" cy="1734.5" r="31.6" fill="#fff" stroke="#7f3299" stroke-width="1.5"/>
<text x="1686.67" y="1747.45" font-size="38.11" font-weight="bold" fill="#111" textLength="41.54" lengthAdjust="spacingAndGlyphs" stroke="#111" stroke-width="1.3">11</text>
<circle cx="447.6" cy="1938.8" r="9.1" fill="#7f3299"/>
<circle cx="1750.5" cy="1849.2" r="9.1" fill="#7f3299"/>
<circle cx="128.3" cy="2223.3" r="55.7" fill="#fff" stroke="#e5e8e8" stroke-width="3"/>
<g fill="#7f3299" stroke="#7f3299"><path d="M-13.9,-7.4 H-8.6 V-6.3 H8.6 V-7.4 H13.9 V7.4 H8.6 V6.3 H-8.6 V7.4 H-13.9 Z" transform="translate(119.3,2214) rotate(-45)" stroke="none"/><line x1="125.5" y1="2220.3" x2="149.6" y2="2244.9" stroke-width="5" stroke-linecap="round"/></g>
<text x="233.82" y="2251.00" font-size="98.78" font-weight="normal" fill="#2a2a2a" textLength="223.77" lengthAdjust="spacingAndGlyphs" stroke="#fff" stroke-width="2.6">Poder</text>
<text x="473.27" y="2251.00" font-size="98.78" font-weight="normal" fill="#2a2a2a" textLength="259.51" lengthAdjust="spacingAndGlyphs" stroke="#fff" stroke-width="2.6">judicial</text>
<text x="237.63" y="2384.85" font-size="41.61" font-weight="bold" fill="#111" textLength="186.29" lengthAdjust="spacingAndGlyphs" stroke="#111" stroke-width="1.3">FISCALES</text>
<text x="478.13" y="2447.65" font-size="41.61" font-weight="bold" fill="#7f3299" textLength="112.14" lengthAdjust="spacingAndGlyphs" stroke="#7f3299" stroke-width="1.3">2017:</text>
<text x="477.71" y="2506.55" font-size="41.61" font-weight="bold" fill="#111" textLength="108.85" lengthAdjust="spacingAndGlyphs" stroke="#111" stroke-width="1.3">1.575</text>
<text x="445.71" y="2567.05" font-size="42.48" font-weight="normal" fill="#111" textLength="142.84" lengthAdjust="spacingAndGlyphs" stroke="#111" stroke-width="0.7">63,79%</text>
<path d="M224.31,2864.80 A135.7,135.7 0 0 1 330.80,2645.00" fill="none" stroke="#d5d7d7" stroke-width="2.9" stroke-dasharray="8.5 6.5"/>
<path d="M330.80,2645.00 A135.7,135.7 0 1 1 224.31,2864.80" fill="none" stroke="#7f3299" stroke-width="9.3" stroke-linecap="round"/>
<circle cx="445.4" cy="2713.7" r="18.6" fill="#fff"/>
<path d="M445.4,2713.7 H540.8 V2592.3" fill="none" stroke="#d0d2d2" stroke-width="2.4"/>
<circle cx="445.4" cy="2713.7" r="13.6" fill="#7f3299"/>
<text x="273.86" y="2794.35" font-size="43.11" font-weight="bold" fill="#111" textLength="114.48" lengthAdjust="spacingAndGlyphs" stroke="#111" stroke-width="1.3">2.469</text>
<text x="829.27" y="2384.55" font-size="41.61" font-weight="bold" fill="#111" textLength="212.29" lengthAdjust="spacingAndGlyphs" stroke="#111" stroke-width="1.3">LETRADOS</text>
<text x="1091.02" y="2448.85" font-size="41.61" font-weight="bold" fill="#7f3299" textLength="112.88" lengthAdjust="spacingAndGlyphs" stroke="#7f3299" stroke-width="1.3">2017:</text>
<text x="1092.14" y="2508.85" font-size="41.61" font-weight="bold" fill="#111" textLength="109.09" lengthAdjust="spacingAndGlyphs" stroke="#111" stroke-width="1.3">2.936</text>
<text x="1059.91" y="2569.25" font-size="42.48" font-weight="normal" fill="#111" textLength="142.74" lengthAdjust="spacingAndGlyphs" stroke="#111" stroke-width="0.7">67,65%</text>
<path d="M773.72,2864.87 A172.7,172.7 0 0 1 936.00,2633.10" fill="none" stroke="#d5d7d7" stroke-width="2.9" stroke-dasharray="8.5 6.5"/>
<path d="M936.00,2633.10 A172.7,172.7 0 1 1 773.72,2864.87" fill="none" stroke="#7f3299" stroke-width="9.3" stroke-linecap="round"/>
<path d="M936.00,2664.80 A141,141 0 1 1 848.03,2915.99" fill="none" stroke="#c9a4d2" stroke-width="6.0" stroke-linecap="round"/>
<circle cx="1094.4" cy="2736.9" r="18.6" fill="#fff"/>
<path d="M1094.4,2736.9 H1168.6 V2591.2" fill="none" stroke="#d0d2d2" stroke-width="2.4"/>
<circle cx="1094.4" cy="2736.9" r="13.6" fill="#7f3299"/>
<circle cx="1077.0" cy="2802.4" r="18.6" fill="#fff"/>
<path d="M1077.0,2802.4 H1168.6 V2935" fill="none" stroke="#d0d2d2" stroke-width="2.4"/>
<circle cx="1077.0" cy="2802.4" r="13.6" fill="#c9a4d2"/>
<text x="879.16" y="2817.65" font-size="43.11" font-weight="bold" fill="#111" textLength="114.06" lengthAdjust="spacingAndGlyphs" stroke="#111" stroke-width="1.3">4.340</text>
<text x="1091.02" y="2978.65" font-size="41.61" font-weight="bold" fill="#c9a4d2" textLength="112.88" lengthAdjust="spacingAndGlyphs" stroke="#c9a4d2" stroke-width="1.3">2004:</text>
<text x="1059.91" y="3039.05" font-size="42.48" font-weight="normal" fill="#111" textLength="142.74" lengthAdjust="spacingAndGlyphs" stroke="#111" stroke-width="0.7">60,34%</text>
<text x="1495.00" y="2383.95" font-size="41.61" font-weight="bold" fill="#111" textLength="145.47" lengthAdjust="spacingAndGlyphs" stroke="#111" stroke-width="1.3">JUECES</text>
<text x="1709.42" y="2445.75" font-size="41.61" font-weight="bold" fill="#7f3299" textLength="113.19" lengthAdjust="spacingAndGlyphs" stroke="#7f3299" stroke-width="1.3">2017:</text>
<text x="1711.25" y="2506.05" font-size="41.61" font-weight="bold" fill="#111" textLength="108.71" lengthAdjust="spacingAndGlyphs" stroke="#111" stroke-width="1.3">3.029</text>
<text x="1679.49" y="2565.85" font-size="42.48" font-weight="normal" fill="#111" textLength="140.64" lengthAdjust="spacingAndGlyphs" stroke="#111" stroke-width="0.7">52,78%</text>
<path d="M1525.79,2983.16 A210,210 0 0 1 1567.30,2567.30" fill="none" stroke="#d5d7d7" stroke-width="2.9" stroke-dasharray="8.5 6.5"/>
<path d="M1567.30,2567.30 A210,210 0 1 1 1525.79,2983.16" fill="none" stroke="#7f3299" stroke-width="9.3" stroke-linecap="round"/>
<path d="M1567.30,2602.30 A175,175 0 0 1 1658.48,2926.67" fill="none" stroke="#c9a4d2" stroke-width="6.0" stroke-linecap="round"/>
<circle cx="1766.4" cy="2710.7" r="18.6" fill="#fff"/>
<path d="M1766.4,2710.7 H1790.8 V2589.6" fill="none" stroke="#d0d2d2" stroke-width="2.4"/>
<circle cx="1766.4" cy="2710.7" r="13.6" fill="#7f3299"/>
<circle cx="1739.7" cy="2807.4" r="18.6" fill="#fff"/>
<path d="M1739.7,2807.4 H1790.8 V2927.5" fill="none" stroke="#d0d2d2" stroke-width="2.4"/>
<circle cx="1739.7" cy="2807.4" r="13.6" fill="#c9a4d2"/>
<text x="1510.54" y="2788.85" font-size="43.11" font-weight="bold" fill="#111" textLength="114.71" lengthAdjust="spacingAndGlyphs" stroke="#111" stroke-width="1.3">5.739</text>
<text x="1714.19" y="2976.85" font-size="41.61" font-weight="bold" fill="#c9a4d2" textLength="107.71" lengthAdjust="spacingAndGlyphs" stroke="#c9a4d2" stroke-width="1.3">2004:</text>
<text x="1683.93" y="3025.75" font-size="42.48" font-weight="normal" fill="#111" textLength="136.05" lengthAdjust="spacingAndGlyphs" stroke="#111" stroke-width="0.7">41,89%</text>
<path d="M1283,3083.5 H1549.2 L1567.8,3041.8 L1587.3,3083.5 H1813.5" fill="none" stroke="#d0d2d2" stroke-width="2.4" stroke-linejoin="miter"/>
<text x="1286.04" y="3190.85" font-size="36.48" font-weight="normal" fill="#111" textLength="103.49" lengthAdjust="spacingAndGlyphs" stroke="#111" stroke-width="0.7">Juezas</text>
<rect x="1492.50" y="3168.70" width="178.20" height="25.80" fill="#e4e7e8"/>
<rect x="1492.50" y="3168.70" width="111.60" height="25.80" fill="#7f3299"/>
<text x="1684.89" y="3191.05" font-size="37.06" font-weight="normal" fill="#111" textLength="124.37" lengthAdjust="spacingAndGlyphs" stroke="#111" stroke-width="0.3">64,53%</text>
<text x="1283.64" y="3256.65" font-size="36.48" font-weight="normal" fill="#111" textLength="193.09" lengthAdjust="spacingAndGlyphs" stroke="#111" stroke-width="0.7">Magistradas</text>
<rect x="1492.50" y="3232.20" width="178.20" height="25.80" fill="#e4e7e8"/>
<rect x="1492.50" y="3232.20" width="89.30" height="25.80" fill="#7f3299"/>
<text x="1685.29" y="3256.85" font-size="37.06" font-weight="normal" fill="#111" textLength="123.97" lengthAdjust="spacingAndGlyphs" stroke="#111" stroke-width="0.3">51,65%</text>
<text x="1284.96" y="3321.45" font-size="36.48" font-weight="normal" fill="#111" textLength="142.06" lengthAdjust="spacingAndGlyphs" stroke="#111" stroke-width="0.7">Supremo</text>
<rect x="1492.50" y="3295.20" width="178.20" height="25.80" fill="#e4e7e8"/>
<rect x="1492.50" y="3295.20" width="24.50" height="25.80" fill="#7f3299"/>
<text x="1677.42" y="3321.45" font-size="36.48" font-weight="normal" fill="#111" textLength="131.61" lengthAdjust="spacingAndGlyphs" stroke="#111" stroke-width="0.7">14,12 %</text>
<line x1="57.20" y1="3380.70" x2="1814.90" y2="3380.70" stroke="#3a3a3a" stroke-width="1.8"/>
<text x="54.33" y="3417.95" font-size="38.02" font-weight="normal" fill="#444" textLength="1167.28" lengthAdjust="spacingAndGlyphs" stroke="#fff" stroke-width="0.7">Fuente: Instituto de la Mujer y para la Igualdad de Oportunidades</text>
<rect x="1421.30" y="3400.20" width="6.20" height="6.40" fill="#b7bec2"/>
<rect x="1421.30" y="3412.60" width="6.20" height="6.40" fill="#b7bec2"/>
<rect x="1433.40" y="3400.20" width="6.20" height="6.40" fill="#b7bec2"/>
<rect x="1433.40" y="3412.60" width="6.20" height="6.40" fill="#b7bec2"/>
<text x="1451.23" y="3417.35" font-size="31.11" font-weight="bold" fill="#1a1a1a" textLength="364.10" lengthAdjust="spacingAndGlyphs" stroke="#1a1a1a" stroke-width="1.3">ENRIQUE SÁNCHEZ</text>
</svg>
</body></html>
